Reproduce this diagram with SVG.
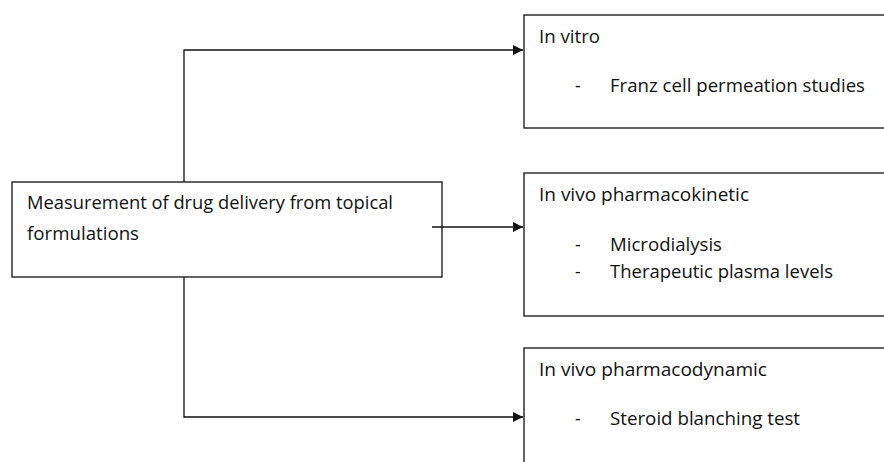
<svg xmlns="http://www.w3.org/2000/svg" width="884" height="462" viewBox="0 0 884 462">
<style>
.box{fill:#fff;stroke:#222;stroke-width:1.4}
.t{font-family:"Open Sans","Liberation Sans",sans-serif;font-size:17.5px;fill:#111}
.c{fill:none;stroke:#111;stroke-width:1.3}
</style>
<defs>
<marker id="ah" viewBox="0 0 10 10" refX="10" refY="5" markerWidth="11" markerHeight="10" markerUnits="userSpaceOnUse" orient="auto">
<path d="M0,0 L10,5 L0,10 Z" fill="#111"/>
</marker>
</defs>
<g id="main">
<rect class="box" x="12" y="182" width="430" height="95"/>
<text class="t" x="27" y="209" textLength="366" lengthAdjust="spacingAndGlyphs">Measurement of drug delivery from topical</text>
<text class="t" x="27" y="240" textLength="112" lengthAdjust="spacingAndGlyphs">formulations</text>
</g>
<g id="invitro">
<rect class="box" x="524" y="15" width="380" height="113"/>
<text class="t" x="539" y="43" textLength="61" lengthAdjust="spacingAndGlyphs">In vitro</text>
<text class="t" x="575" y="92">-</text>
<text class="t" x="610" y="92" textLength="255" lengthAdjust="spacingAndGlyphs">Franz cell permeation studies</text>
</g>
<g id="pk">
<rect class="box" x="524" y="173" width="380" height="143"/>
<text class="t" x="539" y="201" textLength="210" lengthAdjust="spacingAndGlyphs">In vivo pharmacokinetic</text>
<text class="t" x="575" y="251">-</text>
<text class="t" x="610" y="251" textLength="112" lengthAdjust="spacingAndGlyphs">Microdialysis</text>
<text class="t" x="575" y="278">-</text>
<text class="t" x="610" y="278" textLength="223" lengthAdjust="spacingAndGlyphs">Therapeutic plasma levels</text>
</g>
<g id="pd">
<rect class="box" x="524" y="348" width="380" height="130"/>
<text class="t" x="539" y="376" textLength="228" lengthAdjust="spacingAndGlyphs">In vivo pharmacodynamic</text>
<text class="t" x="575" y="425">-</text>
<text class="t" x="610" y="425" textLength="190" lengthAdjust="spacingAndGlyphs">Steroid blanching test</text>
</g>
<g id="connectors">
<path class="c" d="M184,182 V50 H523" marker-end="url(#ah)"/>
<path class="c" d="M432,227 H523" marker-end="url(#ah)"/>
<path class="c" d="M184,277 V417 H523" marker-end="url(#ah)"/>
</g>
</svg>
